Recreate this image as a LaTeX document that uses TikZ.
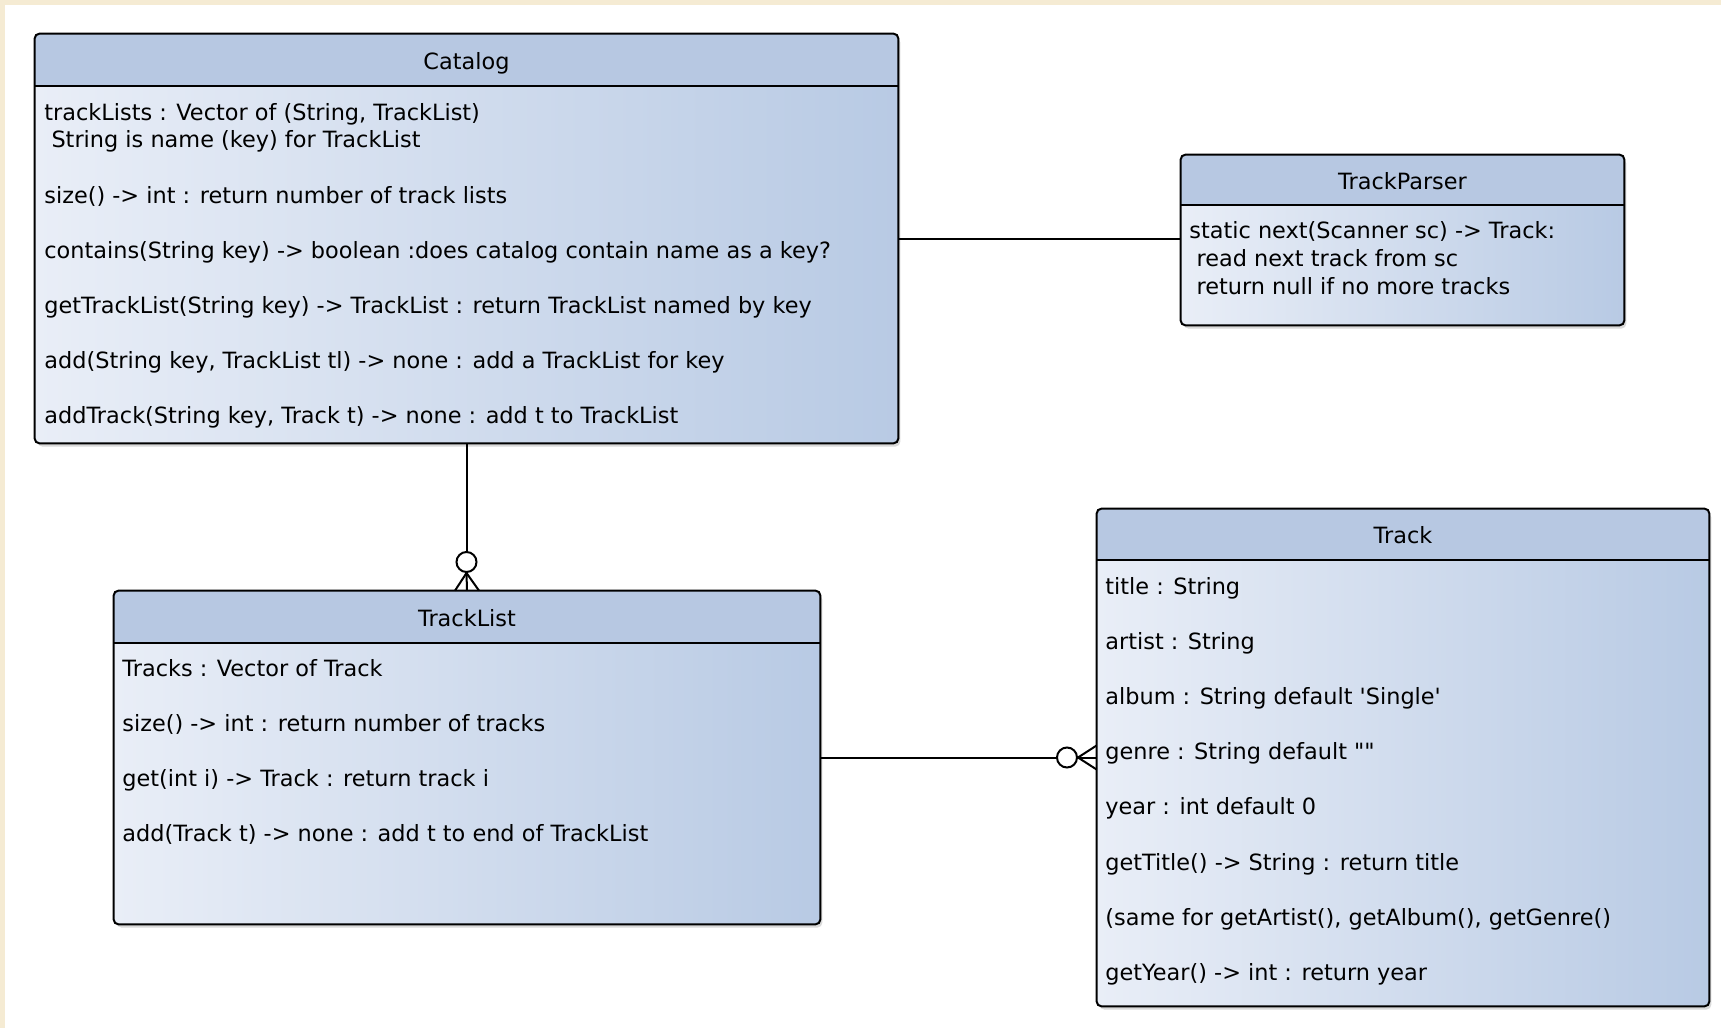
\documentclass[tikz,border=0pt]{standalone}
\usepackage{fontspec}
\setmainfont{DejaVu Sans}
\usetikzlibrary{calc,fit,shadows}

\definecolor{cream}{HTML}{F5EBD3}
\definecolor{headblue}{HTML}{B7C8E2}
\definecolor{bodylight}{HTML}{E9EEF7}
\definecolor{bodydark}{HTML}{B8CAE4}

\begin{document}
\begin{tikzpicture}[x=0.5pt,y=-0.5pt,
		every node/.style={font=\fontsize{11.2}{13}\selectfont},
		classbody/.style={rectangle, rounded corners=2.5pt, inner sep=0pt,
			left color=bodylight, right color=bodydark,
			drop shadow={shadow xshift=1.2pt, shadow yshift=-1.8pt, opacity=.3}},
		classline/.style={line width=1pt},
		member/.style={anchor=base west, inner sep=0pt},
		classname/.style={anchor=base, inner sep=0pt},
		link/.style={line width=1pt},
		zeroring/.style={draw, circle, line width=1pt, fill=white, minimum size=10pt, inner sep=0pt}]
				%page frame, cream strip on top and left
				\useasboundingbox (0,0) rectangle (1721,1028);
				\fill[cream] (0,0) rectangle (1721,5);
				\fill[cream] (0,0) rectangle (5,1028);

				%% class boxes: name/left/top/right/bottom/header line/title
				\foreach \n/\xa/\ya/\xb/\yb/\yh/\t in {catalog/35/34/898/443/86/Catalog,
						trackparser/1181/155/1624/325/205/TrackParser,
						tracklist/114/591/820/924/643/TrackList,
						track/1097/509/1709/1006/560/Track}{
					\node[classbody, fit={(\xa,\ya) (\xb,\yb)}] (\n) {};
					\begin{scope}
						\clip[rounded corners=2.5pt] (\xa,\ya) rectangle (\xb,\yb);
						\fill[headblue] (\xa,\ya) rectangle (\xb,\yh);
					\end{scope}
					\draw[classline] (\xa,\yh) -- (\xb,\yh);
					\draw[classline, rounded corners=2.5pt] (\n.north west) rectangle (\n.south east);
					\node[classname] (\n-title) at ({(\xa+\xb)/2}, {(\ya+\yh)/2+9}) {\t};
					}

				%% members
				\foreach \y/\txt [count=\i] in {120/{trackLists : Vector of (String, TrackList)},
						147/{\ String is name (key) for TrackList},
						203/{size() -> int : return number of track lists},
						258/{contains(String key) -> boolean :does catalog contain name as a key?},
						313/{getTrackList(String key) -> TrackList : return TrackList named by key},
						368/{add(String key, TrackList tl) -> none : add a TrackList for key},
						423/{addTrack(String key, Track t) -> none : add t to TrackList}}{
					\node[member] (catalog-\i) at (44,\y) {\txt};
					}
				\foreach \y/\txt [count=\i] in {238/{static next(Scanner sc) -> Track:},
						266/{\ read next track from sc},
						294/{\ return null if no more tracks}}{
					\node[member] (trackparser-\i) at (1189,\y) {\txt};
					}
				\foreach \txt [count=\i] in {{Tracks : Vector of Track},
						{size() -> int : return number of tracks},
						{get(int i) -> Track : return track i},
						{add(Track t) -> none : add t to end of TrackList}}{
					\node[member] (tracklist-\i) at (122, {676+55.3*(\i-1)}) {\txt};
					}
				\foreach \txt [count=\i] in {{title : String},
						{artist : String},
						{album : String default \textquotesingle Single\textquotesingle},
						{genre : String default \textquotedbl\textquotedbl},
						{year : int default 0},
						{getTitle() -> String : return title},
						{(same for getArtist(), getAlbum(), getGenre()},
						{getYear() -> int : return year}}{
					\node[member] (track-\i) at (1105, {594+55.2*(\i-1)}) {\txt};
					}

				%% connectors, zero-or-many ends
				\node[zeroring] (ring-a) at (466.5,562) {};
				\node[zeroring] (ring-b) at (1067,757.5) {};

				\draw[link] (catalog.east) -- (catalog.east -| trackparser.west);
				\draw[link] (catalog.south) -- (ring-a.north);
				\draw[link] (ring-a.south) -- (tracklist.north);
				\draw[link] (ring-a.south) -- ($(tracklist.north)+(-12,0)$);
				\draw[link] (ring-a.south) -- ($(tracklist.north)+(12,0)$);
				\draw[link] (tracklist.east) -- (ring-b.west);
				\draw[link] (ring-b.east) -- (track.west);
				\draw[link] (ring-b.east) -- ($(track.west)+(0,-12)$);
				\draw[link] (ring-b.east) -- ($(track.west)+(0,12)$);
\end{tikzpicture}
\end{document}
